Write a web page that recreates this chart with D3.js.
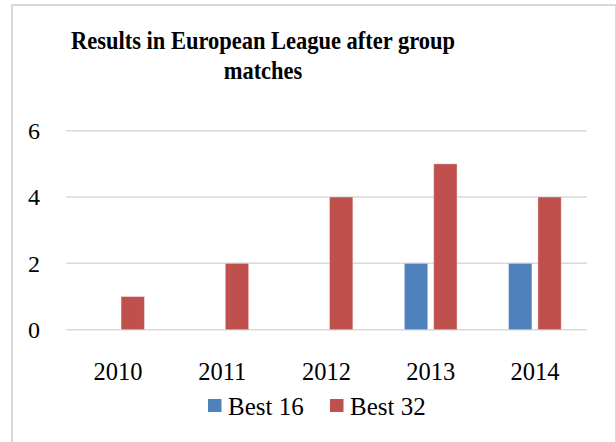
<!DOCTYPE html>
<html>
<head>
<meta charset="utf-8">
<script src="https://cdn.jsdelivr.net/npm/d3@7"></script>
<style>
  html, body { margin: 0; padding: 0; background: #fff; }
  svg { display: block; }
  text { font-family: "Liberation Serif", "Times New Roman", serif; fill: #000; }
</style>
</head>
<body>
<svg id="chart" width="616" height="442"></svg>
<script>
// Data
const years = ["2010", "2011", "2012", "2013", "2014"];
const seriesNames = ["Best 16", "Best 32"];
const best16 = [0, 0, 0, 2, 2];
const best32 = [1, 2, 4, 5, 4];
const yTicks = [0, 2, 4, 6];
const colors = ["#4F81BD", "#C0504D"];

const svg = d3.select("#chart");
const W = 616, H = 442;
const serif = "'Liberation Serif', 'Times New Roman', serif";

// Chart frame
svg.append("line").attr("x1", 12).attr("x2", 12).attr("y1", 4).attr("y2", H)
  .attr("stroke", "#d9d9d9").attr("stroke-width", 2);
svg.append("line").attr("x1", 11).attr("x2", 616).attr("y1", 5).attr("y2", 5)
  .attr("stroke", "#d9d9d9").attr("stroke-width", 2);
svg.append("line").attr("x1", 615.5).attr("x2", 615.5).attr("y1", 4).attr("y2", H)
  .attr("stroke", "#d9d9d9").attr("stroke-width", 1);

// Title (slightly narrowed lettering)
const title = svg.append("g")
  .attr("transform", "translate(263,0) scale(0.9,1)")
  .append("text")
  .attr("text-anchor", "middle")
  .style("font-family", serif)
  .style("font-weight", "700")
  .style("font-size", "25px");
title.append("tspan").attr("x", 0).attr("y", 49).text("Results in European League after group");
title.append("tspan").attr("x", 0).attr("y", 79).text("matches");

// Scales
const x = d3.scaleBand().domain(years).range([66, 587]);
const y = d3.scaleLinear().domain([0, 6]).range([329.7, 130.7]);
const barW = x.bandwidth() * 0.224;
const inner = d3.scaleOrdinal().domain(seriesNames)
  .range([-barW - 3, 3]);

// Gridlines
svg.append("g")
  .selectAll("line")
  .data(yTicks)
  .join("line")
  .attr("x1", 66).attr("x2", 587)
  .attr("y1", d => y(d)).attr("y2", d => y(d))
  .attr("stroke", "#d9d9d9").attr("stroke-width", 1.5);

// Y axis labels
const yAxis = d3.axisLeft(y).tickValues(yTicks).tickFormat(d3.format("d"))
  .tickSize(0).tickPadding(0);
svg.append("g")
  .attr("transform", "translate(40,0)")
  .call(yAxis)
  .call(g => g.select(".domain").remove())
  .call(g => g.selectAll("text")
    .style("font-size", "24px")
    .style("font-family", serif)
    .attr("dy", "0.33em")
    .attr("fill", "#000"));

// X axis labels
const xAxis = d3.axisBottom(x).tickSize(0).tickPadding(0);
svg.append("g")
  .attr("transform", "translate(0,380)")
  .call(xAxis)
  .call(g => g.select(".domain").remove())
  .call(g => g.selectAll("text")
    .style("font-size", "24.5px")
    .style("font-family", serif)
    .attr("dy", "0")
    .attr("fill", "#000"));

// Bars
const series = [best16, best32];
series.forEach((vals, si) => {
  svg.append("g")
    .selectAll("rect")
    .data(vals.map((v, i) => ({ year: years[i], value: v })).filter(d => d.value > 0))
    .join("rect")
    .attr("x", d => x(d.year) + x.bandwidth() / 2 + inner(seriesNames[si]))
    .attr("y", d => y(d.value))
    .attr("width", barW)
    .attr("height", d => y(0) - y(d.value))
    .attr("fill", colors[si])
    .attr("stroke", "rgba(255,255,255,0.35)")
    .attr("stroke-width", 1);
});

// Legend
const legendItems = [
  { name: seriesNames[0], color: colors[0], x: 208 },
  { name: seriesNames[1], color: colors[1], x: 330 }
];
const lg = svg.append("g");
legendItems.forEach(it => {
  lg.append("rect").attr("x", it.x).attr("y", 399).attr("width", 13.5).attr("height", 13)
    .attr("fill", it.color);
  lg.append("text").attr("x", it.x + 20).attr("y", 415)
    .style("font-family", serif)
    .style("font-size", "25px").text(it.name);
});
</script>
</body>
</html>
